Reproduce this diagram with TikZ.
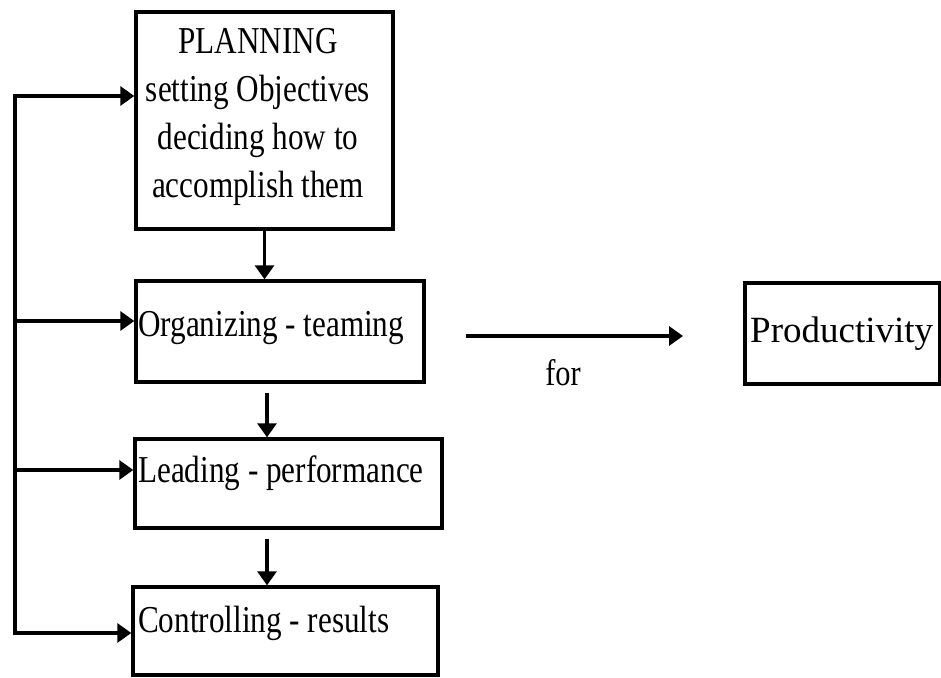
\documentclass[tikz,border=0pt]{standalone}
\usepackage{fontspec}
\setmainfont{Liberation Serif}
\newfontfamily\condf[FakeStretch=0.82]{Liberation Serif}
\usetikzlibrary{arrows.meta}
\begin{document}
\begin{tikzpicture}[x=1pt,y=-1pt,
  box/.style={draw, line width=3.4pt, rectangle, inner sep=0pt},
  lbl/.style={inner sep=0pt, font=\condf\fontsize{38}{48}\selectfont},
  prodlbl/.style={inner sep=0pt, font=\fontsize{37}{40}\selectfont},
  forlbl/.style={inner sep=0pt, font=\condf\fontsize{37}{40}\selectfont},
  ln/.style={line width=3.2pt},
  arr/.style={line width=3.2pt, -{Triangle[length=14pt,width=19pt]}}]
\useasboundingbox (0,0) rectangle (941,677);
\fill[white] (0,0) rectangle (941,677);
% boxes
\node[box, minimum width=257pt, minimum height=217pt] (plan) at (264.5,120.5) {};
\node[box, minimum width=288pt, minimum height=101pt] (org) at (280,331.5) {};
\node[box, minimum width=307pt, minimum height=89pt] (lead) at (288.5,483.5) {};
\node[box, minimum width=305pt, minimum height=88pt] (ctrl) at (285.5,631) {};
\node[box, minimum width=195pt, minimum height=101pt] (prod) at (842.5,333.5) {};
% texts
\node[lbl, align=center, anchor=base] (plantxt) at (258,197)
  {PLANNING\\setting Objectives\\deciding how to\\accomplish them};
\node[lbl, anchor=base west] (orgtxt) at (138,336) {Organizing - teaming};
\node[lbl, anchor=base west] (leadtxt) at (138,482) {Leading - performance};
\node[lbl, anchor=base west] (ctrltxt) at (138,632) {Controlling - results};
\node[prodlbl, anchor=base west] (prodtxt) at (750,342) {Productivity};
% feedback rail
\coordinate (r1) at (15,96);
\coordinate (r2) at (15,321);
\coordinate (r3) at (15,470);
\coordinate (r4) at (15,633);
\draw[ln, line cap=rect] (r1) -- (r4);
\draw[arr] (r1) -- (r1 -| plan.west);
\draw[arr] (r2) -- (r2 -| org.west);
\draw[arr] (r3) -- (r3 -| lead.west);
\draw[arr] (r4) -- (r4 -| ctrl.west);
% down arrows
\draw[arr] (plan.south) -- (plan.south |- org.north);
\path (org.south) ++(-13,9) coordinate (a2);
\draw[arr] (a2) -- (a2 |- lead.north);
\path (lead.south) ++(-21.5,9) coordinate (a3);
\draw[arr] (a3) -- (a3 |- ctrl.north);
% for arrow
\coordinate (fa) at (466,336);
\coordinate (fb) at (683,336);
\draw[arr] (fa) -- (fb);
\node[forlbl, anchor=base] (for) at (563,385) {for};
\end{tikzpicture}
\end{document}
